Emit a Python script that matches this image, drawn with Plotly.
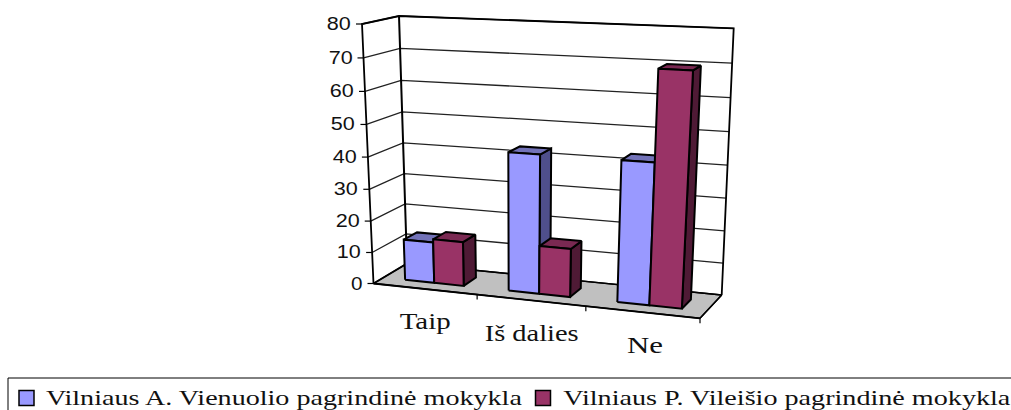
import json
import plotly.graph_objects as go

categories = ["Taip", "Iš dalies", "Ne"]
series_names = ["Vilniaus A. Vienuolio pagrindinė mokykla", "Vilniaus P. Vileišio pagrindinė mokykla"]
vienuolio = [13, 43, 43]
vileisio = [14, 15, 70]
y_ticks = [0, 10, 20, 30, 40, 50, 60, 70, 80]
Y_MAX = 80

front_c = ["#9999FF", "#993366"]
side_c = ["#4F4F8C", "#4F1A35"]
top_c = ["#7272B8", "#7A2952"]

# screen positions of the eight corners of the 3-D plot box
FLB, FRB, BLB, BRB = (373.5, 283.5), (700, 318.3), (407, 263.5), (721.7, 295)
FLT, FRT, BLT, BRT = (362, 24), (716, 38.8), (399, 16), (733.7, 28.3)


def persp(t, a):
    return t * a / (1 - t + t * a)


def P(u, d, v):
    """category-axis fraction u, depth fraction d, value v -> screen point"""
    uu, hh = persp(u, 0.93), persp(v / Y_MAX, 0.95)
    out = []
    for i in (0, 1):
        bot = (FLB[i]*(1-uu)*(1-d) + FRB[i]*uu*(1-d) + BLB[i]*(1-uu)*d + BRB[i]*uu*d)
        top = (FLT[i]*(1-uu)*(1-d) + FRT[i]*uu*(1-d) + BLT[i]*(1-uu)*d + BRT[i]*uu*d)
        out.append(bot + (top - bot) * hh)
    return out


fig = go.Figure()
text_widths = {}


def poly(points, fill=None, width=2.0, color="black"):
    xs = [p[0] for p in points]
    ys = [p[1] for p in points]
    if fill:
        xs.append(xs[0])
        ys.append(ys[0])
    fig.add_trace(go.Scatter(x=xs, y=ys, mode="lines", fill="toself" if fill else None,
                             fillcolor=fill, line=dict(color=color, width=width),
                             hoverinfo="skip", showlegend=False))


# floor
poly([P(0, 0, 0), P(1, 0, 0), P(1, 1, 0), P(0, 1, 0)], fill="#C0C0C0", width=1.4)
# gridlines on both walls and value ticks
for t in y_ticks:
    if t:
        poly([P(0, 0, t), P(0, 1, t), P(1, 1, t)], width=1.3, color="#222222")
    a = P(0, 0, t)
    poly([[a[0] - 6, a[1]], a], width=1.2)
    w = 24 if t else 11.5
    text_widths[str(t)] = w
    fig.add_annotation(x=a[0] - 11 - w / 2, y=a[1], text=str(t), showarrow=False,
                       font=dict(family="Liberation Sans", size=17.5, color="#111111"))
# wall frame
poly([P(0, 0, 0), P(0, 0, Y_MAX), P(0, 1, Y_MAX), P(1, 1, Y_MAX), P(1, 1, 0)], width=1.8)
poly([P(0, 1, Y_MAX), P(0, 1, 0), P(0, 0, 0)], width=2.0)
poly([P(0, 1, 0), P(1, 1, 0), P(1, 0, 0)], width=1.4)
poly([P(0, 0, 0), P(1, 0, 0)], width=1.8)
# category ticks
for i in range(1, 4):
    a = P(i / 3, 0, 0)
    poly([a, [a[0], a[1] + 5]], width=1.2)

# bars
bar_w = 1 / 3.5 / 3
for i in range(len(categories)):
    for s, vals in enumerate((vienuolio, vileisio)):
        u0 = (i + 0.75 / 3.5 + s / 3.5) / 3
        u1 = u0 + bar_w
        d0, d1 = 0.3, 0.7
        v = vals[i]
        poly([P(u1, d0, 0), P(u1, d1, 0), P(u1, d1, v), P(u1, d0, v)], fill=side_c[s])
        poly([P(u0, d0, v), P(u1, d0, v), P(u1, d1, v), P(u0, d1, v)], fill=top_c[s])
        poly([P(u0, d0, 0), P(u1, d0, 0), P(u1, d0, v), P(u0, d0, v)], fill=front_c[s])

# category labels
for name, x, y, w in zip(categories, (425, 531, 644.5), (321, 333, 345), (51, 94, 36)):
    text_widths[name] = w
    fig.add_annotation(x=x, y=y, text=name, showarrow=False,
                       font=dict(family="Liberation Serif", size=24, color="#111111"))

# legend
fig.add_shape(type="rect", x0=8, y0=378, x1=1030, y1=430, line=dict(color="black", width=1))
for name, sx, tx, w, col in zip(series_names, (26.5, 543), (284, 786.5), (476, 447), front_c):
    text_widths[name] = w
    fig.add_trace(go.Scatter(x=[sx], y=[398], mode="markers", hoverinfo="skip", showlegend=False,
                             marker=dict(symbol="square", size=15, color=col,
                                         line=dict(color="black", width=1.5))))
    fig.add_annotation(x=tx, y=398, text=name, showarrow=False,
                       font=dict(family="Liberation Serif", size=21, color="#111111"))

fig.update_layout(width=1011, height=410, margin=dict(l=0, r=0, t=0, b=0),
                  paper_bgcolor="white", plot_bgcolor="white",
                  xaxis=dict(range=[0, 1011], visible=False),
                  yaxis=dict(range=[410, 0], visible=False))

post = """
document.body.style.margin='0';document.documentElement.style.overflow='hidden';
var tw=%s;
function stretch(){document.querySelectorAll('.annotation-text').forEach(function(t){
  var w=tw[t.textContent]; if(w){t.setAttribute('textLength',w);t.setAttribute('lengthAdjust','spacingAndGlyphs');}
});}
stretch();requestAnimationFrame(stretch);
var gd=document.getElementById('{plot_id}');if(gd&&gd.on){gd.on('plotly_afterplot',stretch);}
""" % json.dumps(text_widths, ensure_ascii=False)

fig.write_html("out.html", config=dict(displayModeBar=False), post_script=post)
